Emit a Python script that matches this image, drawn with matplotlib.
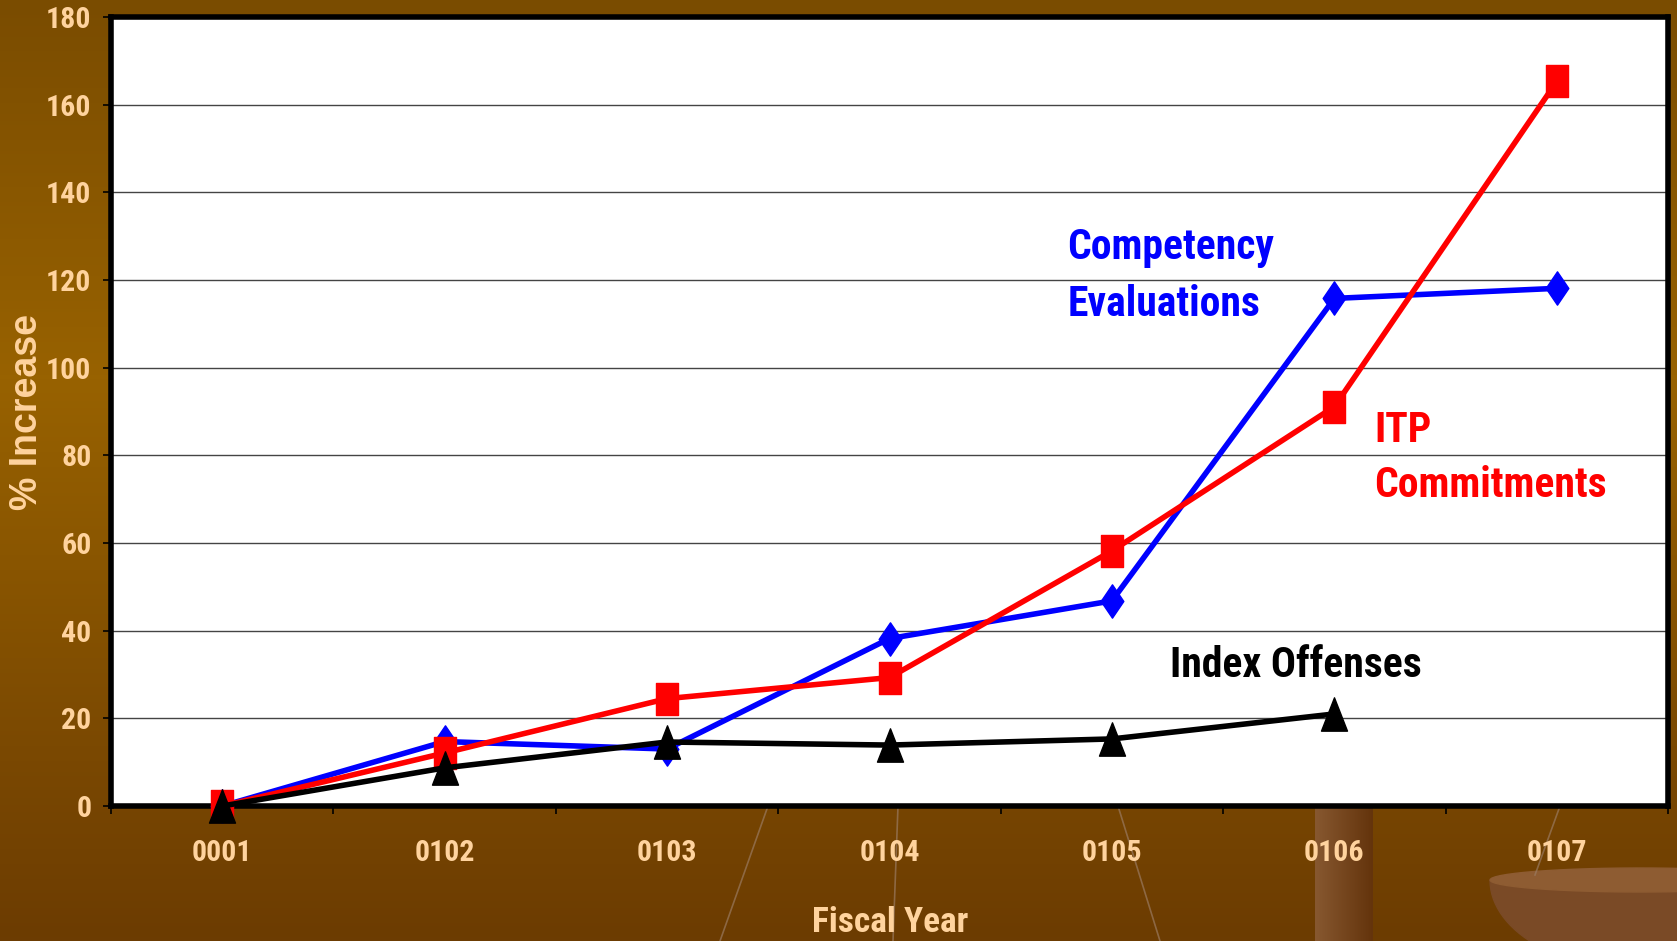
import matplotlib.pyplot as plt
import numpy as np
from matplotlib.path import Path
from matplotlib.patches import Polygon
from matplotlib.font_manager import fontManager, FontProperties

years = ['0001', '0102', '0103', '0104', '0105', '0106', '0107']
competency = [0, 14.7, 13.0, 38.2, 46.8, 115.8, 118.1]
itp = [0, 12.1, 24.5, 29.3, 58.2, 91.1, 165.3]
index_offenses = [0, 8.7, 14.6, 13.9, 15.3, 21.0]

peach = '#FFD39E'


def find_narrow():
    # the original uses a narrow bold face; take one if installed
    prefs = ['Liberation Sans Narrow', 'Roboto Condensed', 'Noto Sans Condensed',
             'Noto Sans', 'Open Sans Condensed', 'Open Sans']
    found = []
    for f in fontManager.ttflist:
        w = f.weight if isinstance(f.weight, int) else (700 if 'bold' in str(f.weight) else 400)
        cond = ('Narrow' in f.name or 'Condensed' in f.name or 'Condensed' in f.fname
                or str(f.stretch) in ('condensed', 'semi-condensed'))
        if cond and 'Extra' not in f.fname and 'Semi' not in f.fname and w == 700 \
                and f.style == 'normal':
            found.append(f)
    for p in prefs:
        for f in found:
            if f.name == p:
                return f.fname
    return None


narrow_file = find_narrow()


def fp(size):
    if narrow_file:
        return FontProperties(fname=narrow_file, size=size)
    return FontProperties(family='Liberation Sans', weight='bold', size=size * 0.82)


fig = plt.figure(figsize=(16.77, 9.41), dpi=100)

# brown gradient background
grad = np.linspace(0, 1, 256)
top = np.array([122, 76, 0]) / 255
mid = np.array([152, 98, 0]) / 255
bot = np.array([108, 60, 2]) / 255
cols = np.where(grad[:, None] < 0.4,
                top + (mid - top) * (grad[:, None] / 0.4),
                mid + (bot - mid) * ((grad[:, None] - 0.4) / 0.6))
bg = fig.add_axes([0, 0, 1, 1], zorder=-10)
bg.imshow(cols[:, None, :], aspect='auto', extent=[0, 1677, 941, 0])
# template decoration: pillar, strings and bowl of a scale
pil = np.linspace(0, 1, 64)
pc = np.array([135, 88, 48]) / 255 * (1 - pil[:, None]) + np.array([100, 52, 12]) / 255 * pil[:, None]
bg.imshow(pc[None, :, :], aspect='auto', extent=[1315, 1373, 941, 806])
for (x0, y0, x1, y1) in [(768, 806, 720, 941), (898, 806, 893, 941), (1118, 806, 1160, 941),
                         (1560, 806, 1535, 875)]:
    bg.plot([x0, x1], [y0, y1], color='#9a7a60', lw=1.2, alpha=0.7)
t = np.linspace(0, np.pi, 60)
bowl = np.column_stack([1640 + 150 * np.cos(t), 880 + 90 * np.sin(t)])
bg.add_patch(Polygon(bowl, closed=True, color='#7a4a26'))
rim = np.column_stack([1640 + 150 * np.cos(2 * t), 880 + 12 * np.sin(2 * t)])
bg.add_patch(Polygon(rim, closed=True, color='#8e5c32'))
bg.set_xlim(0, 1677)
bg.set_ylim(941, 0)
bg.axis('off')

ax = fig.add_axes([111 / 1677, 1 - 806 / 941, 1557 / 1677, 789 / 941])
ax.set_facecolor('white')

x = np.arange(len(years))
rect = Path([(-0.36, -0.5), (0.36, -0.5), (0.36, 0.5), (-0.36, 0.5), (-0.36, -0.5)],
            [Path.MOVETO, Path.LINETO, Path.LINETO, Path.LINETO, Path.CLOSEPOLY])
tri = Path([(0, 0.5), (-0.39, -0.5), (0.39, -0.5), (0, 0.5)],
           [Path.MOVETO, Path.LINETO, Path.LINETO, Path.CLOSEPOLY])
diam = Path([(0, 0.5), (0.34, 0), (0, -0.5), (-0.34, 0), (0, 0.5)],
            [Path.MOVETO, Path.LINETO, Path.LINETO, Path.LINETO, Path.CLOSEPOLY])

ax.plot(x, competency, color='#0000FF', lw=4.0, marker=diam, ms=24, zorder=3, clip_on=False)
ax.plot(x, itp, color='#FF0000', lw=4.0, marker=rect, ms=23, zorder=4, clip_on=False)
ax.plot(x[:len(index_offenses)], index_offenses, color='black', lw=4.0, marker=tri, ms=24,
        zorder=5, clip_on=False)

ax.set_xlim(-0.5, 6.5)
ax.set_ylim(0, 180)
ax.set_yticks(range(0, 181, 20))
ax.set_xticks(x)
ax.set_xticklabels(years)
ax.set_xticks(np.arange(-0.5, 7, 1), minor=True)
ax.tick_params(axis='x', which='major', length=0, pad=24, labelcolor=peach)
ax.tick_params(axis='x', which='minor', length=6, width=1.2, color='black', direction='out')
ax.tick_params(axis='y', length=6, width=1.2, color='black', direction='out', pad=8,
               labelcolor=peach)
for lab in ax.get_xticklabels() + ax.get_yticklabels():
    lab.set_fontproperties(fp(21.5))

ax.grid(axis='y', color='#444444', lw=1.0, zorder=1)
ax.set_axisbelow(True)
for sp in ax.spines.values():
    sp.set_linewidth(4)
    sp.set_color('black')

txt = dict(va='baseline', ha='left', fontproperties=fp(30))
ax.text(3.80, 124.8, 'Competency', color='#0000FF', **txt)
ax.text(3.80, 111.8, 'Evaluations', color='#0000FF', **txt)
ax.text(5.18, 83.0, 'ITP', color='#FF0000', **txt)
ax.text(5.18, 70.5, 'Commitments', color='#FF0000', **txt)
ax.text(4.26, 29.4, 'Index Offenses', color='black', **txt)

fig.text(890 / 1677, 1 - 932 / 941, 'Fiscal Year', color=peach, fontproperties=fp(25.5),
         ha='center', va='baseline')
fig.text(27 / 1677, 1 - 412 / 941, '% Increase', color=peach, family='Liberation Sans',
         weight='bold', fontsize=27, ha='center', va='center', rotation=90)

fig.savefig('out.png', dpi=100)
